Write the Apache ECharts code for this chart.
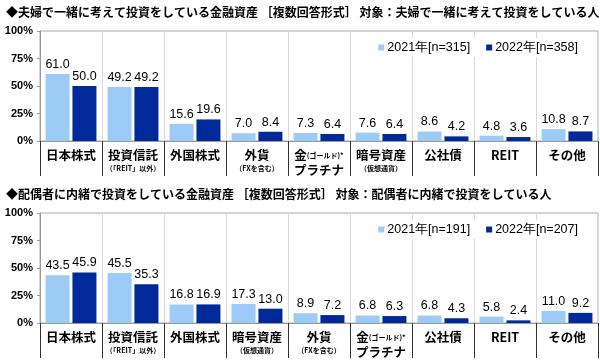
<!DOCTYPE html>
<html><head><meta charset="utf-8">
<script src="https://cdn.jsdelivr.net/npm/echarts@6/dist/echarts.min.js"></script>
<style>html,body{margin:0;padding:0;background:#fff}#c{width:600px;height:362px}</style>
</head><body><div id="c"></div>
<script>
const title1 = '◆夫婦で一緒に考えて投資をしている金融資産 ［複数回答形式］ 対象：夫婦で一緒に考えて投資をしている人';
const title2 = '◆配偶者に内緒で投資をしている金融資産 ［複数回答形式］ 対象：配偶者に内緒で投資をしている人';
const cats1 = ['日本株式','投資信託','外国株式','外貨','金','暗号資産','公社債','REIT','その他'];
const cats2 = ['日本株式','投資信託','外国株式','暗号資産','外貨','金','公社債','REIT','その他'];
const names1 = ['2021年[n=315]','2022年[n=358]'];
const names2 = ['2021年[n=191]','2022年[n=207]'];
const v1_2021 = [61.0,49.2,15.6,7.0,7.3,7.6,8.6,4.8,10.8];
const v1_2022 = [50.0,49.2,19.6,8.4,6.4,6.4,4.2,3.6,8.7];
const v2_2021 = [43.5,45.5,16.8,17.3,8.9,6.8,6.8,5.8,11.0];
const v2_2022 = [45.9,35.3,16.9,13.0,7.2,6.3,4.3,2.4,9.2];
const yTicks = [0,25,50,75,100];

const subs = {'投資信託':'（「REIT」以外）','外貨':'（FXを含む）','暗号資産':'（仮想通貨）'};
function catFmt(v){
  if(v==='金') return '{m|金}{s|(ゴールド)*}\n{m|プラチナ}';
  if(subs[v]) return '{m|'+v+'}\n{s|'+subs[v]+'}';
  return '{m|'+v+'}';
}
const cjk = '"Noto Sans CJK JP", sans-serif';
const lat = '"Liberation Sans", Arial, sans-serif';
const light = '#9dcbf7', dark = '#00299a';

function xAxis(cats, gi){
  return {type:'category', gridIndex:gi, data:cats,
    axisLine:{lineStyle:{color:'#999'}},
    axisTick:{show:true, length:35, lineStyle:{color:'#333'}},
    splitLine:{show:true, lineStyle:{color:'#d8d8d8'}},
    axisLabel:{interval:0, margin:7, formatter:catFmt, verticalAlign:'top',
      rich:{m:{fontFamily:cjk, fontWeight:'bold', fontSize:12.5, color:'#000', lineHeight:15},
            s:{fontFamily:cjk, fontWeight:'bold', fontSize:7, color:'#000', lineHeight:11}}}};
}
function yAxis(gi){
  return {type:'value', gridIndex:gi, min:0, max:100, interval:25,
    axisLine:{show:true, lineStyle:{color:'#999'}},
    axisTick:{show:true, length:3, lineStyle:{color:'#999'}},
    splitLine:{show:false},
    axisLabel:{formatter:v=>yTicks.includes(v)?v+'%':'', fontFamily:lat, fontWeight:'bold', fontSize:11, color:'#000', margin:7}};
}
function ser(name, data, color, gi){
  return {type:'bar', name, data, xAxisIndex:gi, yAxisIndex:gi, barWidth:24, barGap:'12%',
    itemStyle:{color},
    label:{show:true, position:'top', distance:3, formatter:p=>p.value.toFixed(1),
      fontFamily:lat, fontSize:12.5, color:'#000'}};
}
const legendCommon = {right:18, itemWidth:6, itemHeight:6, itemGap:16, icon:'rect',
  backgroundColor:'#fff', padding:[3,4],
  textStyle:{fontFamily:lat, fontSize:12.5, color:'#000', padding:[0,0,0,-2]}};

const chart = echarts.init(document.getElementById('c'));
chart.setOption({
  animation:false,
  title:[
    {text:title1, left:1, top:1, textStyle:{fontFamily:cjk, fontWeight:'bold', fontSize:12, color:'#000'}},
    {text:title2, left:1, top:183, textStyle:{fontFamily:cjk, fontWeight:'bold', fontSize:12, color:'#000'}}
  ],
  legend:[
    Object.assign({}, legendCommon, {top:38, data:names1}),
    Object.assign({}, legendCommon, {top:220, data:names2})
  ],
  grid:[
    {left:40, right:2, top:31, height:110, show:true, borderColor:'#aaa', borderWidth:1},
    {left:40, right:2, top:213, height:110, show:true, borderColor:'#aaa', borderWidth:1}
  ],
  xAxis:[xAxis(cats1,0), xAxis(cats2,1)],
  yAxis:[yAxis(0), yAxis(1)],
  series:[
    ser(names1[0], v1_2021, light, 0), ser(names1[1], v1_2022, dark, 0),
    ser(names2[0], v2_2021, light, 1), ser(names2[1], v2_2022, dark, 1)
  ]
});
</script></body></html>
